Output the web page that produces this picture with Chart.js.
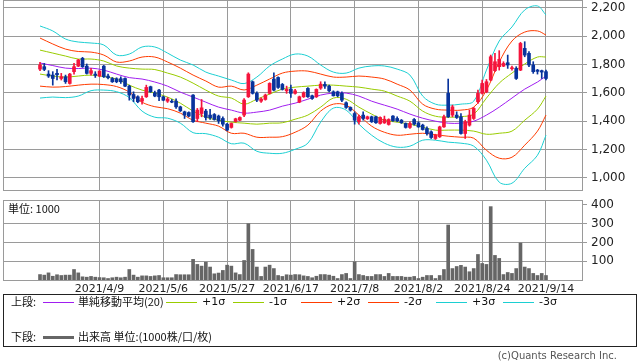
<!DOCTYPE html>
<html>
<head>
<meta charset="utf-8">
<script src="https://cdn.jsdelivr.net/npm/chart.js@4.4.1/dist/chart.umd.min.js"></script>
<style>
  body { margin: 0; background: #fff; width: 638px; height: 362px; position: relative; overflow: hidden; font-family: "DejaVu Sans", sans-serif; }
  canvas { position: absolute; left: 0; }
  #priceChart { top: 0; }
  #volumeChart { top: 195px; }
  .txt { position: absolute; font-size: 11px; color: #111; white-space: nowrap; line-height: 1; }
  .jp { font-family: "Noto Sans CJK JP", sans-serif; }
  .legendBox { position: absolute; left: 3px; top: 294px; width: 634px; height: 53px; border: 1px solid #222; box-sizing: border-box; }
  .swatch { position: absolute; height: 0; }
  .copy { position: absolute; right: 21px; top: 350px; font-size: 10px; color: #555; }
</style>
</head>
<body>
<canvas id="priceChart" width="638" height="191"></canvas>
<canvas id="volumeChart" width="638" height="100"></canvas>
<div class="txt jp" style="left:8px; top:203px;">単位: 1000</div>

<div class="legendBox"></div>
<div id="legend"></div>
<div class="copy">(c)Quants Research Inc.</div>

<script>
// trading days 2021/3/22 .. 2021/9/14, index 0..119
const xTickDays = [14, 29, 44, 59, 74, 89, 104, 119];
const xTickLabels = ['2021/4/9', '2021/5/6', '2021/5/27', '2021/6/17', '2021/7/8', '2021/8/2', '2021/8/24', '2021/9/14'];
const priceTicks = [1000, 1200, 1400, 1600, 1800, 2000, 2200];
const volumeTicks = [100, 200, 300, 400];

const open = [1767,1784,1732,1725,1737,1701,1713,1666,1749,1788, 1843,1788,1737,1732,1718,1788,1718,1701,1699,1699,
  1701,1647,1588,1572,1541,1572,1643,1600,1619,1572, 1541,1541,1541,1501,1466,1461,1584,1419,1454,1471,
  1443,1447,1436,1419,1379,1356,1398,1407,1443,1572, 1678,1596,1541,1553,1596,1697,1708,1659,1614,1626,
  1596,1534,1572,1631,1579,1572,1633,1659,1647,1607, 1607,1596,1530,1497,1454,1396,1443,1417,1431,1431,
  1384,1388,1377,1436,1419,1407,1384,1356,1412,1388, 1372,1348,1325,1278,1290,1360,1596,1443,1443,1431,
  1313,1372,1419,1537,1596,1607,1690,1756,1784,1788, 1812,1770,1772,1760,1913,1878,1796,1760,1756,1749];
const high = [1814,1807,1756,1749,1765,1737,1725,1737,1807,1836, 1850,1803,1772,1749,1756,1793,1732,1708,1706,1713,
  1706,1654,1607,1579,1577,1654,1647,1612,1624,1577, 1567,1553,1558,1506,1471,1466,1588,1490,1553,1483,
  1483,1454,1443,1431,1384,1388,1421,1431,1560,1741, 1683,1607,1565,1591,1671,1741,1713,1666,1647,1654,
  1624,1577,1607,1636,1584,1628,1678,1678,1654,1614, 1612,1607,1537,1501,1466,1443,1466,1436,1436,1436,
  1431,1436,1417,1440,1431,1412,1388,1396,1419,1396, 1379,1360,1332,1308,1365,1443,1697,1513,1466,1454,
  1407,1478,1497,1619,1690,1694,1866,1878,1897,1819, 1866,1788,1784,1956,1960,1890,1819,1765,1760,1760];
const low = [1756,1756,1708,1654,1690,1690,1666,1661,1732,1784, 1779,1732,1725,1708,1713,1708,1697,1673,1671,1666,
  1643,1548,1537,1530,1520,1567,1603,1572,1544,1544, 1532,1530,1490,1468,1419,1431,1391,1396,1431,1407,
  1412,1407,1384,1365,1332,1351,1393,1403,1431,1567, 1591,1537,1532,1548,1591,1614,1631,1619,1596,1567,
  1591,1530,1567,1567,1553,1567,1624,1631,1607,1577, 1572,1537,1490,1471,1379,1379,1407,1412,1391,1384,
  1379,1384,1372,1398,1396,1384,1351,1349,1372,1356, 1337,1301,1278,1271,1285,1356,1426,1431,1419,1308,
  1278,1365,1412,1525,1591,1600,1685,1749,1760,1784, 1772,1760,1694,1756,1854,1784,1737,1732,1701,1690];
const close = [1796,1765,1718,1701,1727,1713,1678,1732,1784,1831, 1784,1737,1756,1723,1753,1713,1706,1678,1678,1678,
  1647,1584,1560,1537,1560,1638,1607,1577,1572,1548, 1556,1534,1501,1473,1443,1436,1396,1478,1494,1426,
  1424,1412,1403,1379,1337,1384,1417,1426,1549,1732, 1596,1548,1556,1584,1666,1619,1638,1624,1624,1596,
  1614,1572,1600,1572,1560,1624,1661,1647,1614,1579, 1579,1548,1497,1478,1407,1431,1419,1431,1396,1389,
  1426,1414,1412,1403,1403,1389,1356,1384,1379,1360, 1341,1313,1285,1301,1360,1431,1431,1501,1426,1313,
  1396,1443,1490,1596,1666,1678,1854,1819,1836,1807, 1796,1777,1701,1948,1866,1796,1749,1751,1746,1701];
const volume = [29,26,38,20,28,24,26,26,56,38, 17,15,19,15,13,12,8,12,15,12,
  15,56,26,15,22,22,19,22,24,12, 12,12,29,28,28,28,110,83,74,95,
  69,33,37,51,79,74,38,29,104,300, 163,69,19,69,79,61,24,19,28,26,
  29,28,22,19,12,20,29,29,26,20, 8,29,35,8,97,29,24,19,19,29,
  29,19,35,19,19,19,15,15,19,8, 15,24,24,8,24,56,293,61,72,78,
  69,44,61,136,88,83,391,131,115,29, 40,35,61,197,69,61,35,24,35,24];

// band values read every third trading day (last point = day 119)
const bandDays = [0,3,6,9,12,15,18,21,24,27,30,33,36,39,42,45,48,51,54,57,60,63,66,69,72,75,78,81,84,87,90,93,96,99,102,105,108,111,114,117,119];
const sma20 = [1810,1792,1774,1771,1774,1760,1732,1707,1697,1676,1647,1605,1570,1534,1499,1478,1457,1464,1478,1506,
  1527,1555,1584,1598,1598,1577,1541,1513,1485,1450,1421,1400,1386,1386,1400,1443,1499,1563,1626,1676,1718];
const plus1 = [1901,1880,1859,1838,1838,1824,1789,1774,1767,1764,1739,1711,1668,1619,1577,1563,1520,1555,1591,1626,
  1640,1647,1654,1654,1647,1640,1626,1612,1577,1541,1471,1435,1428,1432,1450,1563,1668,1739,1803,1852,1852];
const minus1 = [1732,1718,1711,1718,1725,1714,1697,1654,1619,1598,1570,1527,1471,1428,1407,1393,1386,1379,1386,1389,
  1414,1443,1499,1563,1555,1499,1450,1407,1393,1379,1358,1337,1337,1337,1330,1308,1315,1330,1407,1485,1577];
const plus2 = [1986,1944,1908,1891,1887,1866,1817,1824,1852,1852,1817,1774,1725,1683,1640,1647,1620,1654,1697,1739,
  1753,1753,1732,1711,1711,1718,1711,1697,1661,1619,1520,1485,1478,1478,1499,1619,1817,1965,2028,2036,2007];
const minus2 = [1647,1640,1644,1654,1661,1658,1644,1605,1534,1502,1488,1457,1407,1386,1365,1315,1315,1287,1287,1291,
  1322,1372,1471,1520,1513,1443,1365,1322,1301,1308,1315,1305,1294,1287,1280,1195,1139,1146,1231,1330,1443];
const plus3 = [2071,2036,1979,1958,1951,1937,1866,1873,1923,1923,1880,1831,1796,1746,1718,1690,1665,1711,1789,1838,
  1873,1859,1796,1746,1739,1774,1789,1789,1767,1725,1577,1520,1513,1520,1541,1760,1965,2064,2184,2212,2148];
const minus3 = [1563,1570,1566,1577,1615,1619,1608,1566,1471,1428,1421,1386,1319,1312,1287,1241,1245,1188,1174,1174,
  1202,1245,1393,1492,1478,1379,1301,1245,1217,1224,1266,1266,1252,1245,1224,1125,970,963,1068,1160,1301];

const UP = '#f5143c', DOWN = '#08339c', GRID = '#9a9a9a';
const C_MA = '#a01ef0', C_1 = '#99cc00', C_2 = '#ff3c00', C_3 = '#1ccfd2';
const X_MIN = -8.47, X_MAX = 127.47;

const frame = {
  id: 'frame',
  afterDraw(chart) {
    const { ctx, chartArea: a } = chart;
    ctx.save();
    ctx.strokeStyle = GRID;
    ctx.lineWidth = 1;
    ctx.strokeRect(a.left - 0.5, a.top - 0.5, a.right - a.left + 1, a.bottom - a.top + 1);
    ctx.restore();
  }
};

// keep the plot box fixed: no extra room for overhanging tick labels
function noOverhang(s) {
  s.paddingTop = 0; s.paddingBottom = 0; s.paddingLeft = 0; s.paddingRight = 0;
}

function band(values, color) {
  return {
    type: 'line',
    data: bandDays.map((d, k) => ({ x: d, y: values[k] })),
    borderColor: color, borderWidth: 1, pointRadius: 0, tension: 0.35, fill: false, order: 3
  };
}

function xScale(showLabels) {
  return {
    type: 'linear', min: X_MIN, max: X_MAX, offset: false,
    afterBuildTicks: s => { s.ticks = xTickDays.map(v => ({ value: v })); },
    ticks: {
      display: showLabels, autoSkip: false, maxRotation: 0, padding: 3,
      color: '#222', font: { family: 'DejaVu Sans', size: 11 },
      callback: v => xTickLabels[xTickDays.indexOf(v)]
    },
    grid: { color: GRID, drawTicks: false, offset: false },
    border: { display: false },
    afterFit: s => { s.height = showLabels ? 15 : 0; noOverhang(s); }
  };
}

function yScale(min, max, tickValues, fmt, gridColor) {
  return {
    position: 'right', min: min, max: max, offset: false, beginAtZero: false, grace: 0,
    afterBuildTicks: s => { s.ticks = tickValues.map(v => ({ value: v })); },
    ticks: { padding: 4, color: '#222', font: { family: 'DejaVu Sans', size: 12 }, callback: fmt },
    grid: { color: gridColor, tickColor: GRID, tickLength: 5, offset: false },
    border: { display: false },
    afterFit: s => { s.width = 56; noOverhang(s); }
  };
}

const days = open.map((o, i) => i);
const candleColor = days.map(i => close[i] >= open[i] ? UP : DOWN);

new Chart(document.getElementById('priceChart'), {
  type: 'bar',
  data: {
    datasets: [
      band(plus3, C_3), band(minus3, C_3),
      band(plus2, C_2), band(minus2, C_2),
      band(plus1, C_1), band(minus1, C_1),
      band(sma20, C_MA),
      {
        data: days.map(i => ({ x: i, y: [low[i], high[i]] })),
        backgroundColor: candleColor, barThickness: 1, grouped: false, order: 2
      },
      {
        data: days.map(i => ({ x: i, y: [open[i], close[i]] })),
        backgroundColor: candleColor, barThickness: 3, minBarLength: 1, grouped: false, order: 1
      }
    ]
  },
  options: {
    responsive: false, animation: false, devicePixelRatio: 1,
    layout: { padding: { left: 4, top: 1, right: 0, bottom: 1 } },
    plugins: { legend: { display: false }, tooltip: { enabled: false } },
    scales: {
      x: xScale(false),
      y: yScale(915, 2247, priceTicks, v => v.toLocaleString('en-US'), GRID)
    }
  },
  plugins: [frame]
});

new Chart(document.getElementById('volumeChart'), {
  type: 'bar',
  data: {
    datasets: [{
      data: volume.map((v, i) => ({ x: i, y: v })),
      backgroundColor: '#666666', barThickness: 3, grouped: false
    }]
  },
  options: {
    responsive: false, animation: false, devicePixelRatio: 1,
    layout: { padding: { left: 4, top: 6, right: 0, bottom: 0 } },
    plugins: { legend: { display: false }, tooltip: { enabled: false } },
    scales: {
      x: xScale(true),
      y: yScale(0, 421, volumeTicks, v => String(v), c => c.tick && c.tick.value === 400 ? 'rgba(0,0,0,0)' : GRID)
    }
  },
  plugins: [frame]
});

// legend rows
const legendItems = [
  { line: 43, color: C_MA, text: '単純移動平均(20)', jp: true },
  { line: 166, color: C_1, text: '+1σ' },
  { line: 233, color: C_1, text: '-1σ' },
  { line: 301, color: C_2, text: '+2σ' },
  { line: 368, color: C_2, text: '-2σ' },
  { line: 436, color: C_3, text: '+3σ' },
  { line: 503, color: C_3, text: '-3σ' }
];
const legendEl = document.getElementById('legend');
function addText(x, y, text, cls) {
  const d = document.createElement('div');
  d.className = 'txt ' + (cls || '');
  d.style.left = x + 'px';
  d.style.top = y + 'px';
  d.textContent = text;
  legendEl.appendChild(d);
}
function addLine(x, y, w, color, h) {
  const d = document.createElement('div');
  d.className = 'swatch';
  d.style.left = x + 'px';
  d.style.top = y + 'px';
  d.style.width = w + 'px';
  d.style.borderTop = h + 'px solid ' + color;
  legendEl.appendChild(d);
}
addText(11, 296, '上段:', 'jp');
legendItems.forEach(it => {
  addLine(it.line, 302, 31, it.color, 1);
  addText(it.line + (it.jp ? 35 : 36), 296, it.text, it.jp ? 'jp' : '');
});
addText(11, 331, '下段:', 'jp');
addLine(43, 336, 31, '#666666', 3);
addText(78, 331, '出来高 単位:(1000株/口/枚)', 'jp');
</script>
</body>
</html>
